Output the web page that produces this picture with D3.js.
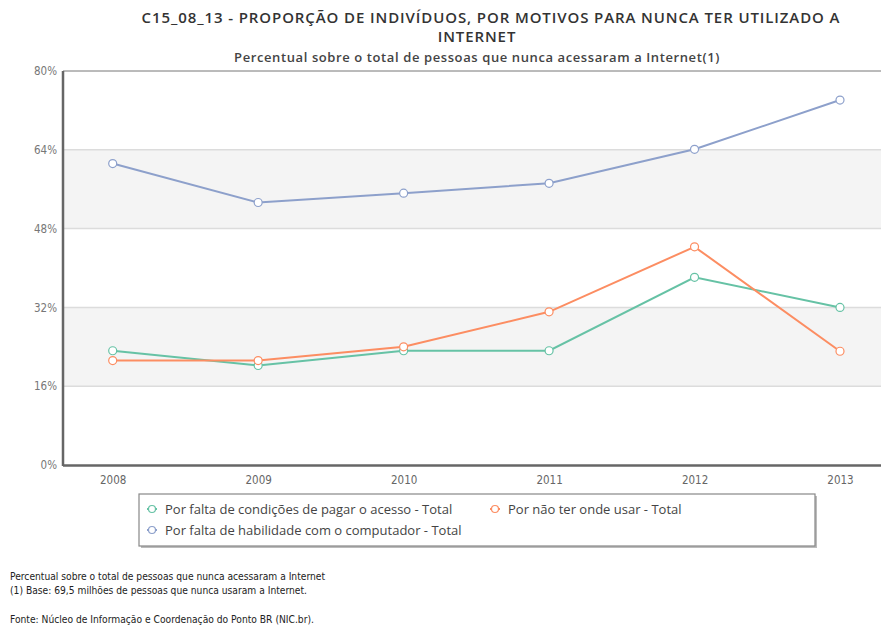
<!DOCTYPE html>
<html>
<head>
<meta charset="utf-8">
<script src="https://cdn.jsdelivr.net/npm/d3@7"></script>
<style>
  body { margin: 0; background: #fff; }
  svg { display: block; }
</style>
</head>
<body>
<script>
// dados
const years = ["2008", "2009", "2010", "2011", "2012", "2013"];
const pagarAcesso = [23.2, 20.2, 23.2, 23.2, 38.1, 32.0];
const ondeUsar = [21.2, 21.2, 24.0, 31.1, 44.3, 23.1];
const habilidade = [61.2, 53.3, 55.2, 57.2, 64.1, 74.1];
const yTicks = [0, 16, 32, 48, 64, 80];

const seriesNames = [
  "Por falta de condições de pagar o acesso - Total",
  "Por não ter onde usar - Total",
  "Por falta de habilidade com o computador - Total"
];
const seriesColors = ["#66c2a5", "#fc8d62", "#8da0cb"];
const series = [pagarAcesso, ondeUsar, habilidade];

const width = 881, height = 625;
const plot = { left: 63, top: 71, right: 881, bottom: 465 };
const font = "'Open Sans', sans-serif";
const condensed = "'DejaVu Sans Condensed', sans-serif";

const svg = d3.select("body").append("svg")
  .attr("width", width)
  .attr("height", height)
  .style("font-family", font);

const x = d3.scalePoint().domain(years).range([112.7, 840]);
const y = d3.scaleLinear().domain([0, 80]).range([plot.bottom, plot.top]);

// faixas alternadas
for (let i = 0; i < yTicks.length - 1; i++) {
  if (i % 2 === 1) {
    svg.append("rect")
      .attr("x", plot.left)
      .attr("y", y(yTicks[i + 1]))
      .attr("width", plot.right - plot.left)
      .attr("height", y(yTicks[i]) - y(yTicks[i + 1]))
      .attr("fill", "#f4f4f4");
  }
}

// linhas de grade
svg.append("g")
  .selectAll("line")
  .data(yTicks.slice(1, -1))
  .join("line")
  .attr("x1", plot.left).attr("x2", plot.right)
  .attr("y1", d => y(d)).attr("y2", d => y(d))
  .attr("stroke", "#dcdcdc")
  .attr("stroke-width", 1.5);

// moldura
svg.append("line")
  .attr("x1", plot.left).attr("x2", plot.right)
  .attr("y1", plot.top).attr("y2", plot.top)
  .attr("stroke", "#777").attr("stroke-width", 1);
svg.append("line")
  .attr("x1", plot.left).attr("x2", plot.left)
  .attr("y1", plot.top).attr("y2", plot.bottom + 1)
  .attr("stroke", "#666").attr("stroke-width", 2.5);
svg.append("line")
  .attr("x1", plot.left).attr("x2", plot.right)
  .attr("y1", plot.bottom + 0.5).attr("y2", plot.bottom + 0.5)
  .attr("stroke", "#666").attr("stroke-width", 2.5);

// eixo y
const yAxis = svg.append("g")
  .attr("transform", `translate(${plot.left - 6},0)`)
  .call(d3.axisLeft(y).tickValues(yTicks).tickSize(0).tickFormat(d => d + "%"));
yAxis.select(".domain").remove();
yAxis.selectAll("text")
  .attr("fill", "#777")
  .attr("font-size", 11.5)
  .attr("x", 0)
  .style("font-family", condensed);

// eixo x
const xAxis = svg.append("g")
  .attr("transform", `translate(0,${plot.bottom + 8})`)
  .call(d3.axisBottom(x).tickSize(0));
xAxis.select(".domain").remove();
xAxis.selectAll("text")
  .attr("fill", "#666")
  .attr("font-size", 11.5)
  .style("font-family", condensed);

// linhas
const line = d3.line()
  .x((d, i) => x(years[i]))
  .y(d => y(d));

series.forEach((vals, k) => {
  svg.append("path")
    .datum(vals)
    .attr("d", line)
    .attr("fill", "none")
    .attr("stroke", seriesColors[k])
    .attr("stroke-width", 2);
});
series.forEach((vals, k) => {
  svg.append("g")
    .selectAll("circle")
    .data(vals)
    .join("circle")
    .attr("cx", (d, i) => x(years[i]))
    .attr("cy", d => y(d))
    .attr("r", 4)
    .attr("fill", "#fff")
    .attr("stroke", seriesColors[k])
    .attr("stroke-width", 1.2);
});

// títulos
const titleLines = [
  ["C15_08_13 - PROPORÇÃO DE INDIVÍDUOS, POR MOTIVOS PARA NUNCA TER UTILIZADO A", 491, 22.5],
  ["INTERNET", 477, 42]
];
svg.append("g")
  .selectAll("text")
  .data(titleLines)
  .join("text")
  .attr("x", d => d[1]).attr("y", d => d[2])
  .attr("text-anchor", "middle")
  .attr("font-size", 15).attr("font-weight", "600")
  .attr("letter-spacing", 0.9)
  .attr("fill", "#333")
  .text(d => d[0]);
svg.append("text")
  .attr("x", 477).attr("y", 61.5)
  .attr("text-anchor", "middle")
  .attr("font-size", 13).attr("font-weight", "600")
  .attr("letter-spacing", 0.6)
  .attr("fill", "#444")
  .text("Percentual sobre o total de pessoas que nunca acessaram a Internet(1)");

// legenda
const legend = svg.append("g");
legend.append("rect")
  .attr("x", 141).attr("y", 496)
  .attr("width", 676).attr("height", 52)
  .attr("fill", "#bbb");
legend.append("rect")
  .attr("x", 139).attr("y", 494)
  .attr("width", 676).attr("height", 52)
  .attr("fill", "#fff")
  .attr("stroke", "#888").attr("stroke-width", 1.2);

const legendPos = [[152, 509], [495, 509], [152, 530]];
seriesNames.forEach((name, k) => {
  const [lx, ly] = legendPos[k];
  legend.append("line")
    .attr("x1", lx - 5).attr("x2", lx + 5)
    .attr("y1", ly).attr("y2", ly)
    .attr("stroke", seriesColors[k]).attr("stroke-width", 2);
  legend.append("circle")
    .attr("cx", lx).attr("cy", ly).attr("r", 3.5)
    .attr("fill", "#fff")
    .attr("stroke", seriesColors[k]).attr("stroke-width", 1.2);
  legend.append("text")
    .attr("x", lx + 13).attr("y", ly + 4.5)
    .attr("font-size", 13)
    .attr("fill", "#444")
    .text(name);
});

// notas
const notes = [
  ["Percentual sobre o total de pessoas que nunca acessaram a Internet", 580],
  ["(1) Base: 69,5 milhões de pessoas que nunca usaram a Internet.", 594],
  ["Fonte: Núcleo de Informação e Coordenação do Ponto BR (NIC.br).", 623]
];
svg.append("g")
  .selectAll("text")
  .data(notes)
  .join("text")
  .attr("x", 10)
  .attr("y", d => d[1])
  .attr("font-size", 10.2)
  .attr("fill", "#222")
  .style("font-family", condensed)
  .text(d => d[0]);
</script>
</body>
</html>
